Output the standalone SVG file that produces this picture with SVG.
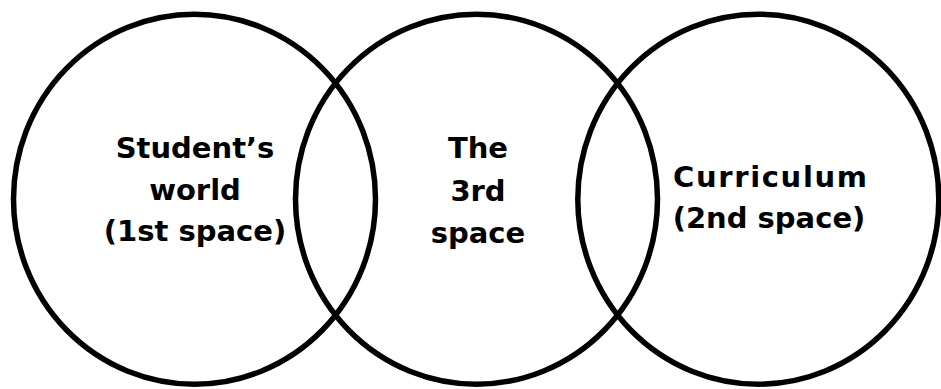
<svg xmlns="http://www.w3.org/2000/svg" width="941" height="389" viewBox="0 0 941 389">
<style>
.c{fill:none;stroke:#000;stroke-width:5.5}
.t{font-family:"DejaVu Sans","Open Sans","Liberation Sans",sans-serif;font-weight:700;font-size:29px;fill:#000;text-anchor:middle}
</style>
<rect width="941" height="389" fill="#fff"/>
<g id="first-space">
<ellipse class="c" cx="194.5" cy="199.2" rx="181" ry="185"/>
<text class="t" x="195" y="158">Student’s</text>
<text class="t" x="195" y="200">world</text>
<text class="t" x="195" y="241">(1st space)</text>
</g>
<g id="third-space">
<ellipse class="c" cx="476.5" cy="199.2" rx="181" ry="185"/>
<text class="t" x="478" y="158">The</text>
<text class="t" x="478" y="201">3rd</text>
<text class="t" x="478" y="243">space</text>
</g>
<g id="second-space">
<ellipse class="c" cx="758.3" cy="199.2" rx="180.5" ry="185"/>
<text class="t" x="770" y="187" textLength="194" lengthAdjust="spacing">Curriculum</text>
<text class="t" x="769" y="228">(2nd space)</text>
</g>
<g id="connectors"/>
</svg>
